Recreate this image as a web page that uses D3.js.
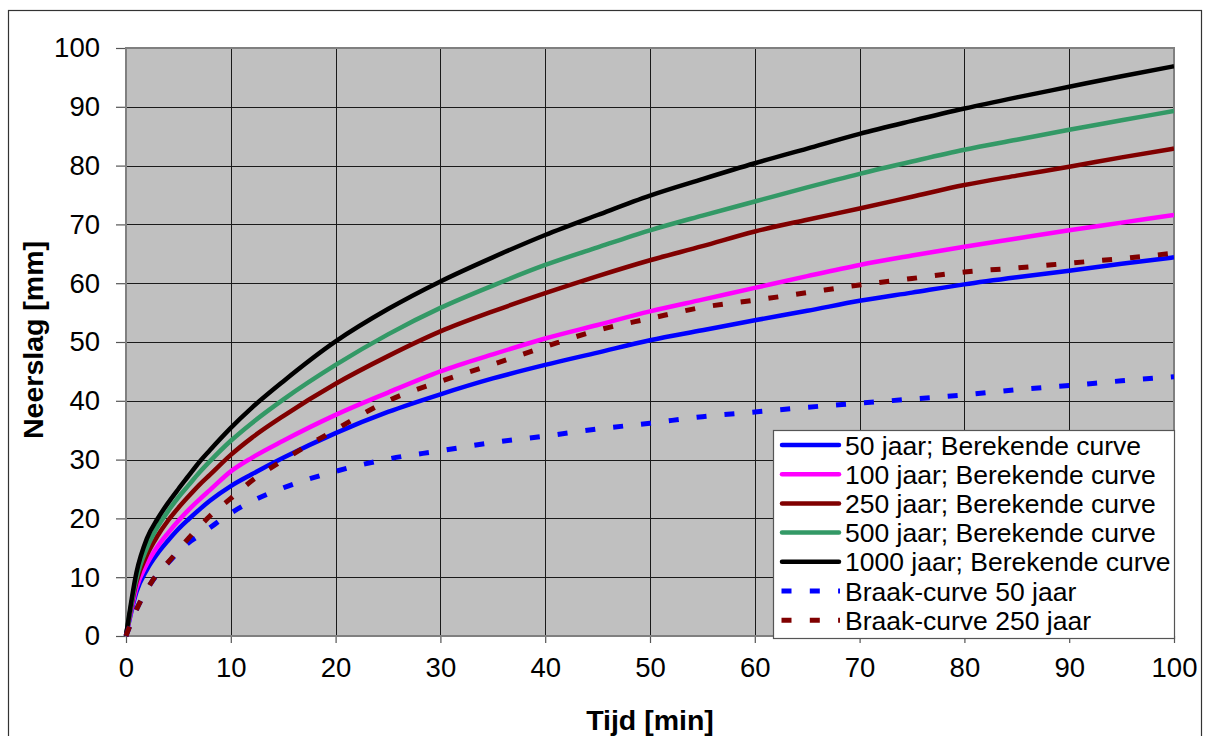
<!DOCTYPE html>
<html>
<head>
<meta charset="utf-8">
<script src="https://cdn.jsdelivr.net/npm/d3@7"></script>
<style>
  html, body { margin: 0; padding: 0; background: #ffffff; }
  svg { display: block; font-family: "Liberation Sans", Arial, sans-serif; }
</style>
</head>
<body>
<svg id="chart" width="1208" height="736"></svg>
<script>
// ---- data ----
const tijd = [0,1,2,3,4,5,6,7,8,10,12,15,20,25,30,35,40,45,50,55,60,65,70,75,80,85,90,95,100];

const ber50   = [0,7.5,11.3,14.0,16.2,18.2,19.9,21.5,23.0,25.5,27.5,30.3,34.5,38.1,41.1,43.8,46.1,48.2,50.3,52.0,53.7,55.3,57.0,58.4,59.8,61.0,62.1,63.3,64.4];
const ber100  = [0,8.2,12.3,15.2,17.5,19.6,21.5,23.2,24.8,28.0,30.3,33.2,37.6,41.4,45.0,47.9,50.6,52.9,55.2,57.2,59.2,61.2,63.1,64.7,66.2,67.6,69.0,70.3,71.6];
const ber250  = [0,9.2,13.8,17.0,19.6,21.8,23.8,25.7,27.4,30.8,33.7,37.4,42.9,47.6,51.8,55.2,58.3,61.2,63.9,66.3,68.8,70.8,72.7,74.7,76.7,78.3,79.8,81.4,82.9];
const ber500  = [0,9.8,15.0,18.5,21.2,23.6,25.7,27.8,29.7,33.2,36.2,40.2,46.1,51.3,55.8,59.6,63.1,66.1,69.0,71.5,73.9,76.3,78.6,80.7,82.7,84.4,86.1,87.7,89.3];
const ber1000 = [0,10.8,16.6,19.9,22.6,25.0,27.3,29.6,31.6,35.4,38.8,43.3,50.1,55.6,60.3,64.4,68.2,71.6,74.9,77.7,80.4,82.9,85.4,87.6,89.7,91.6,93.4,95.2,96.9];
const braak50  = [0,4.5,7.9,10.5,12.4,14.3,15.9,17.1,18.4,20.9,22.9,25.2,28.0,30.1,31.5,32.9,34.0,35.2,36.2,37.3,38.1,38.9,39.6,40.3,41.0,41.9,42.6,43.4,44.1];
const braak250 = [0,4.5,7.9,10.6,12.5,14.6,16.7,18.6,20.4,23.4,26.4,29.9,35.1,40.0,43.3,46.2,49.2,52.0,54.0,55.9,57.1,58.4,59.7,60.8,61.9,62.6,63.4,64.2,65.1];

const seriesNames = [
  "50 jaar; Berekende curve",
  "100 jaar; Berekende curve",
  "250 jaar; Berekende curve",
  "500 jaar; Berekende curve",
  "1000 jaar; Berekende curve",
  "Braak-curve 50 jaar",
  "Braak-curve 250 jaar"
];
const seriesValues = [ber50, ber100, ber250, ber500, ber1000, braak50, braak250];
const seriesColors = ["#0000ff", "#ff00ff", "#800000", "#339966", "#000000", "#0000ff", "#800000"];
const seriesDashed = [false, false, false, false, false, true, true];

const xTicks = [0,10,20,30,40,50,60,70,80,90,100];
const yTicks = [0,10,20,30,40,50,60,70,80,90,100];
const xTitle = "Tijd [min]";
const yTitle = "Neerslag [mm]";

// ---- layout ----
const svg = d3.select("#chart");
const L = 126, R = 1174, T = 48, B = 636;

const x = d3.scaleLinear().domain([0, 100]).range([L, R]);
const y = d3.scaleLinear().domain([0, 100]).range([B, T]);

// outer chart border
svg.append("rect")
  .attr("x", 8.5).attr("y", 10.5)
  .attr("width", 1193).attr("height", 740)
  .attr("fill", "#ffffff").attr("stroke", "#333333").attr("stroke-width", 1.2);

// plot background
svg.append("rect")
  .attr("x", L).attr("y", T).attr("width", R - L).attr("height", B - T)
  .attr("fill", "#c0c0c0");

// gridlines
const grid = svg.append("g");
grid.selectAll("line.gx").data(xTicks.slice(1, -1)).join("line")
  .attr("x1", d => Math.round(x(d)) + 0.5).attr("x2", d => Math.round(x(d)) + 0.5)
  .attr("y1", T).attr("y2", B)
  .attr("stroke", "#1a1a1a").attr("stroke-width", 1);
grid.selectAll("line.gy").data(yTicks.slice(1, -1)).join("line")
  .attr("y1", d => Math.round(y(d)) + 0.5).attr("y2", d => Math.round(y(d)) + 0.5)
  .attr("x1", L).attr("x2", R)
  .attr("stroke", "#1a1a1a").attr("stroke-width", 1);

// axes
const xAxis = d3.axisBottom(x).tickValues(xTicks).tickSize(7).tickPadding(14).tickFormat(d3.format("d"));
const yAxis = d3.axisLeft(y).tickValues(yTicks).tickSize(10).tickPadding(16).tickFormat(d3.format("d"));

const gx = svg.append("g").attr("transform", `translate(0,${B})`).call(xAxis);
const gy = svg.append("g").attr("transform", `translate(${L},0)`).call(yAxis);
[gx, gy].forEach(g => {
  g.select(".domain").remove();
  g.selectAll(".tick line").attr("stroke", "#555555").attr("stroke-width", 1.2);
  g.selectAll(".tick text")
    .attr("fill", "#000000")
    .style("font-family", "'Liberation Sans', Arial, sans-serif")
    .style("font-size", "27.5px");
});
gx.selectAll(".tick text").attr("dy", "0.71em");

// plot border
svg.append("rect")
  .attr("x", L).attr("y", T).attr("width", R - L).attr("height", B - T)
  .attr("fill", "none").attr("stroke", "#808080").attr("stroke-width", 2);

// lines
svg.append("clipPath").attr("id", "clip")
  .append("rect").attr("x", L - 3).attr("y", T - 3).attr("width", R - L + 3).attr("height", B - T + 6);

const line = d3.line()
  .x((d, i) => x(tijd[i]))
  .y(d => y(d))
  .curve(d3.curveMonotoneX);

const linesG = svg.append("g").attr("clip-path", "url(#clip)");
seriesValues.forEach((vals, i) => {
  linesG.append("path")
    .attr("d", line(vals))
    .attr("fill", "none")
    .attr("stroke", seriesColors[i])
    .attr("stroke-width", seriesDashed[i] ? 5 : 4.5)
    .attr("stroke-linejoin", "round")
    .attr("stroke-dasharray", seriesDashed[i] ? "10,18" : null);
});

// legend
const lg = svg.append("g");
const lgX = 773.5, lgY = 430.5, lgW = 401, lgH = 208;
lg.append("rect")
  .attr("x", lgX).attr("y", lgY).attr("width", lgW).attr("height", lgH)
  .attr("fill", "#ffffff").attr("stroke", "#555555").attr("stroke-width", 1.2);
const rowY = d => 445 + d * 29.2;
seriesNames.forEach((name, i) => {
  const cy = rowY(i);
  if (seriesDashed[i]) {
    lg.append("line")
      .attr("x1", 781.5).attr("x2", 840).attr("y1", cy).attr("y2", cy)
      .attr("stroke", seriesColors[i]).attr("stroke-width", 5)
      .attr("stroke-dasharray", "10,18.3");
  } else {
    lg.append("line")
      .attr("x1", 782).attr("x2", 839).attr("y1", cy).attr("y2", cy)
      .attr("stroke", seriesColors[i]).attr("stroke-width", 4.5)
      .attr("stroke-linecap", "round");
  }
  lg.append("text")
    .attr("x", 845).attr("y", cy).attr("dy", "0.36em")
    .style("font-size", "26.5px").attr("fill", "#000")
    .text(name);
});

// axis titles
svg.append("text")
  .attr("x", (L + R) / 2).attr("y", 730)
  .attr("text-anchor", "middle")
  .style("font-size", "28.5px").style("font-weight", "bold")
  .text(xTitle);
svg.append("text")
  .attr("transform", "translate(43,340) rotate(-90)")
  .attr("text-anchor", "middle")
  .style("font-size", "28.5px").style("font-weight", "bold")
  .text(yTitle);
</script>
</body>
</html>
